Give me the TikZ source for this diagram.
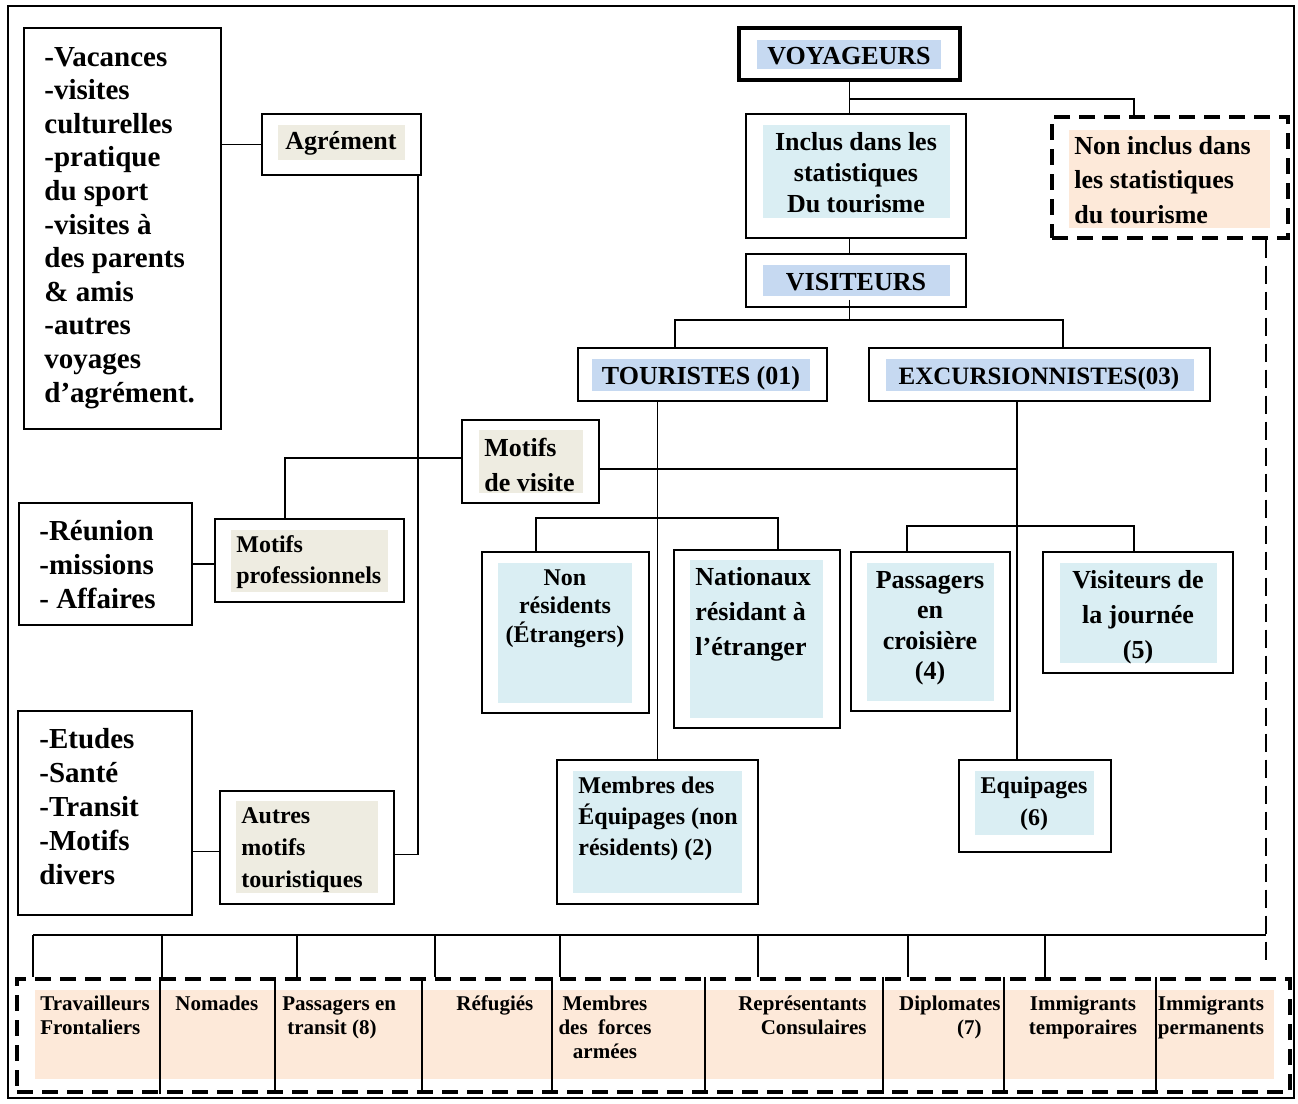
\documentclass[tikz,border=0pt]{standalone}
\usepackage{fontspec}
\setmainfont{Liberation Serif}
\usetikzlibrary{calc}

\definecolor{shadetan}{RGB}{238,236,225}
\definecolor{shadeblue}{RGB}{198,217,241}
\definecolor{shadesky}{RGB}{218,238,243}
\definecolor{shadepeach}{RGB}{253,233,217}

\tikzset{
  box/.style={rectangle, draw, line width=0.9pt, inner sep=0pt},
  dbox/.style={rectangle, draw, line width=1.6pt, dash pattern=on 8pt off 4.5pt, inner sep=0pt},
  txt/.style n args={2}{inner sep=0pt, font=\fontsize{#1}{#2}\selectfont\bfseries},
  link/.style={line width=0.9pt},
  dlink/.style={line width=1.1pt, dash pattern=on 9pt off 4pt},
}

\begin{document}
\begin{tikzpicture}[x=0.5pt, y=-0.5pt]
    \useasboundingbox (0,0) rectangle (1298,1104);
    \draw[line width=0.8pt] (8,6) rectangle (1294,1098);

    % motifs, colonne de gauche (textes ancrés sur la dernière ligne)
    \node(listagr) [box, minimum width=98.5pt, minimum height=200.5pt] at (122.5,228.5) {};
    \node(listagrt) [txt={14.5pt}{16.8pt}, align=left, anchor=base west] at (44,402) {-Vacances\\-visites\\culturelles\\-pratique\\du sport\\-visites à\\des parents\\\& amis\\-autres\\voyages\\d’agrément.};
    \node(agr) [box, minimum width=79.5pt, minimum height=30.5pt] at (341.5,144.5) {};
    \fill[shadetan] (278,125) rectangle (405,160);
    \node(agrt) [txt={13pt}{15pt}, anchor=base] at (341,149) {Agrément};
    \node(motvis) [box, minimum width=68.5pt, minimum height=41.5pt] at (530.5,461.5) {};
    \fill[shadetan] (479,430) rectangle (583,493);
    \node(motvist) [txt={13pt}{17.5pt}, align=left, anchor=base west] at (484,491) {Motifs\\de visite};
    \node(listpro) [box, minimum width=86.5pt, minimum height=61pt] at (105.5,564) {};
    \node(listprot) [txt={14.5pt}{16.8pt}, align=left, anchor=base west] at (39,608) {-Réunion\\-missions\\- Affaires};
    \node(motpro) [box, minimum width=94.5pt, minimum height=41.5pt] at (309.5,560.5) {};
    \fill[shadetan] (231,530) rectangle (388,592);
    \node(motprot) [txt={12pt}{15.5pt}, align=left, anchor=base west] at (236,583) {Motifs\\professionnels};
    \node(listaut) [box, minimum width=87pt, minimum height=102pt] at (105,813) {};
    \node(listautt) [txt={14.5pt}{17pt}, align=left, anchor=base west] at (39,884) {-Etudes\\-Santé\\-Transit\\-Motifs\\divers};
    \node(autmot) [box, minimum width=87pt, minimum height=56.5pt] at (307,847.5) {};
    \fill[shadetan] (236,801) rectangle (378,893);
    \node(autmott) [txt={12pt}{16pt}, align=left, anchor=base west] at (241,887) {Autres\\motifs\\touristiques};

    \draw[link] (agr.west) -- (agr.west -| listagr.east);
    \draw[link] ([xshift=-2pt]agr.south east) |- ([yshift=-3.5pt]autmot.east);
    \draw[link] ([yshift=1.75pt]motvis.west) -| ([xshift=-12.25pt]motpro.north);
    \draw[link] (listpro.east) -- (listpro.east -| motpro.west);
    \draw[link] ([yshift=-2pt]autmot.west) -- ([yshift=-2pt]autmot.west -| listaut.east);

    % voyageurs
    \node(voy) [box, line width=2.2pt, minimum width=110.5pt, minimum height=26pt] at (849.5,54) {};
    \fill[shadeblue] (757,40) rectangle (941,69);
    \node(voyt) [txt={13pt}{15pt}, anchor=base] at (849,64) {VOYAGEURS};
    \node(inclus) [box, minimum width=110pt, minimum height=62pt] at (856,176) {};
    \fill[shadesky] (763,125) rectangle (950,218);
    \node(inclust) [txt={13pt}{15.5pt}, align=center, anchor=base] at (856,212) {Inclus dans les\\statistiques\\Du tourisme};
    \node(noninc) [dbox, minimum width=118pt, minimum height=60.5pt] at (1170,177.5) {};
    \fill[shadepeach] (1069,130) rectangle (1270,228);
    \node(noninct) [txt={13pt}{17.2pt}, align=left, anchor=base west] at (1074,223) {Non inclus dans\\les statistiques\\du tourisme};
    \node(vis) [box, minimum width=110pt, minimum height=26.5pt] at (856,280.5) {};
    \fill[shadeblue] (763,265) rectangle (950,296);
    \node(vist) [txt={13pt}{15pt}, anchor=base] at (856,290) {VISITEURS};
    \node(tour) [box, minimum width=124.5pt, minimum height=26.5pt] at (702.5,374.5) {};
    \fill[shadeblue] (592,359) rectangle (810,391);
    \node(tourt) [txt={13pt}{15pt}, anchor=base] at (701,384) {TOURISTES (01)};
    \node(exc) [box, minimum width=170.5pt, minimum height=26.5pt] at (1039.5,374.5) {};
    \fill[shadeblue] (886,359) rectangle (1194,391);
    \node(exct) [txt={12.5pt}{15pt}, anchor=base] at (1039,384) {EXCURSIONNISTES(03)};

    \coordinate (voybr) at (849.5,99);
    \coordinate (visbr) at (849.5,320);
    \draw[link] (voy.south) -- (voy.south |- inclus.north);
    \draw[link] (voybr) -| ([xshift=-18pt]noninc.north);
    \draw[link] (voy.south |- inclus.south) -- (voy.south |- vis.north);
    \draw[link] ([yshift=4pt]vis.south -| visbr) -- (visbr);
    \draw[link] ([xshift=-13.75pt]tour.north) |- (visbr) -| ([xshift=11.75pt]exc.north);

    % touristes et excursionnistes
    \node(nonres) [box, minimum width=83.5pt, minimum height=80.5pt] at (565.5,632.5) {};
    \fill[shadesky] (498,563) rectangle (632,703);
    \node(nonrest) [txt={12pt}{14.25pt}, align=center, anchor=base] at (565,642) {Non\\résidents\\(Étrangers)};
    \node(nat) [box, minimum width=83pt, minimum height=89pt] at (757,639) {};
    \fill[shadesky] (690,560) rectangle (823,718);
    \node(natt) [txt={13pt}{17.5pt}, align=left, anchor=base west] at (695,655) {Nationaux\\résidant à\\l’étranger};
    \node(pass) [box, minimum width=79.5pt, minimum height=79.5pt] at (930.5,631.5) {};
    \fill[shadesky] (867,563) rectangle (994,701);
    \node(passt) [txt={13pt}{15.25pt}, align=center, anchor=base] at (930,679.5) {Passagers\\en\\croisière\\(4)};
    \node(vjour) [box, minimum width=95pt, minimum height=60.5pt] at (1138,612.5) {};
    \fill[shadesky] (1060,563) rectangle (1217,663);
    \node(vjourt) [txt={13pt}{17.5pt}, align=center, anchor=base] at (1138,658) {Visiteurs de\\la journée\\(5)};
    \node(equip) [box, minimum width=76pt, minimum height=46pt] at (1035,806) {};
    \fill[shadesky] (975,771) rectangle (1094,835);
    \node(equipt) [txt={12pt}{16pt}, align=center, anchor=base] at (1034,825) {Equipages\\(6)};
    \node(memb) [box, minimum width=100.5pt, minimum height=72pt] at (657.5,832) {};
    \fill[shadesky] (573,771) rectangle (742,893);
    \node(membt) [txt={12pt}{15.5pt}, align=left, anchor=base west] at (578,855) {Membres des\\Équipages (non\\résidents) (2)};

    \coordinate (tourbr) at (657.5,518);
    \coordinate (excbr) at (1017,526);
    \coordinate (motvisr) at ([yshift=-3.75pt]motvis.east);
    \draw[link] (memb.north) -- (memb.north |- tour.south);
    \draw[link] ([xshift=-14.75pt]nonres.north) |- (tourbr) -| ([xshift=10.5pt]nat.north);
    \draw[link] ([xshift=-11.25pt]exc.south) -- ([xshift=-11.25pt]exc.south |- equip.north);
    \draw[link] ([xshift=-11.75pt]pass.north) |- (excbr) -| ([xshift=-2pt]vjour.north);
    \draw[link] (motvisr) -- (motvisr -| excbr);

    % non inclus
    \coordinate (busl) at (33,935);
    \coordinate (busr) at (1266,935);
    \coordinate (ninend) at (1266,963);
    \draw[link] (busl) -- (busr);
    \draw[dlink] (ninend |- noninc.south) -- (ninend);
    \node(rowbox) [dbox, minimum width=636.5pt, minimum height=56.5pt] at (653.5,1035.5) {};
    \fill[shadepeach] (35,990) rectangle (1274,1079);
    \foreach \x in {33,162,297,435,560,758,908,1045}
      \draw[link] (\x,0 |- busl) -- (\x,0 |- rowbox.north);
    \foreach \x in {160,275,422,552,705,883,1004,1156}
      \draw[line width=0.6pt] (\x,977) -- (\x,1094);
    \node(trav) [txt={10.5pt}{12pt}, align=left, anchor=base west] at (40,1034) {Travailleurs\\Frontaliers};
    \node(nom) [txt={10.5pt}{12pt}, anchor=base west] at (175,1010) {Nomades};
    \node(transit) [txt={10.5pt}{12pt}, align=left, anchor=base west] at (282,1034) {Passagers en\\\hspace*{2.5pt}transit (8)};
    \node(refu) [txt={10.5pt}{12pt}, anchor=base west] at (456,1010) {Réfugiés};
    \node(forces) [txt={10.5pt}{12pt}, align=center, anchor=base] at (605,1058) {Membres\\des\ \ forces\\armées};
    \node(cons) [txt={10.5pt}{12pt}, align=right, anchor=base east] at (867,1034) {Représentants\\Consulaires};
    \node(dipl) [txt={10.5pt}{12pt}, align=right, anchor=base east] at (1001,1034) {Diplomates\\(7)\hspace*{9.5pt}};
    \node(imtemp) [txt={10.5pt}{12pt}, align=center, anchor=base] at (1083,1034) {Immigrants\\temporaires};
    \node(imperm) [txt={10.5pt}{12pt}, align=center, anchor=base] at (1211,1034) {Immigrants\\permanents};
\end{tikzpicture}
\end{document}
